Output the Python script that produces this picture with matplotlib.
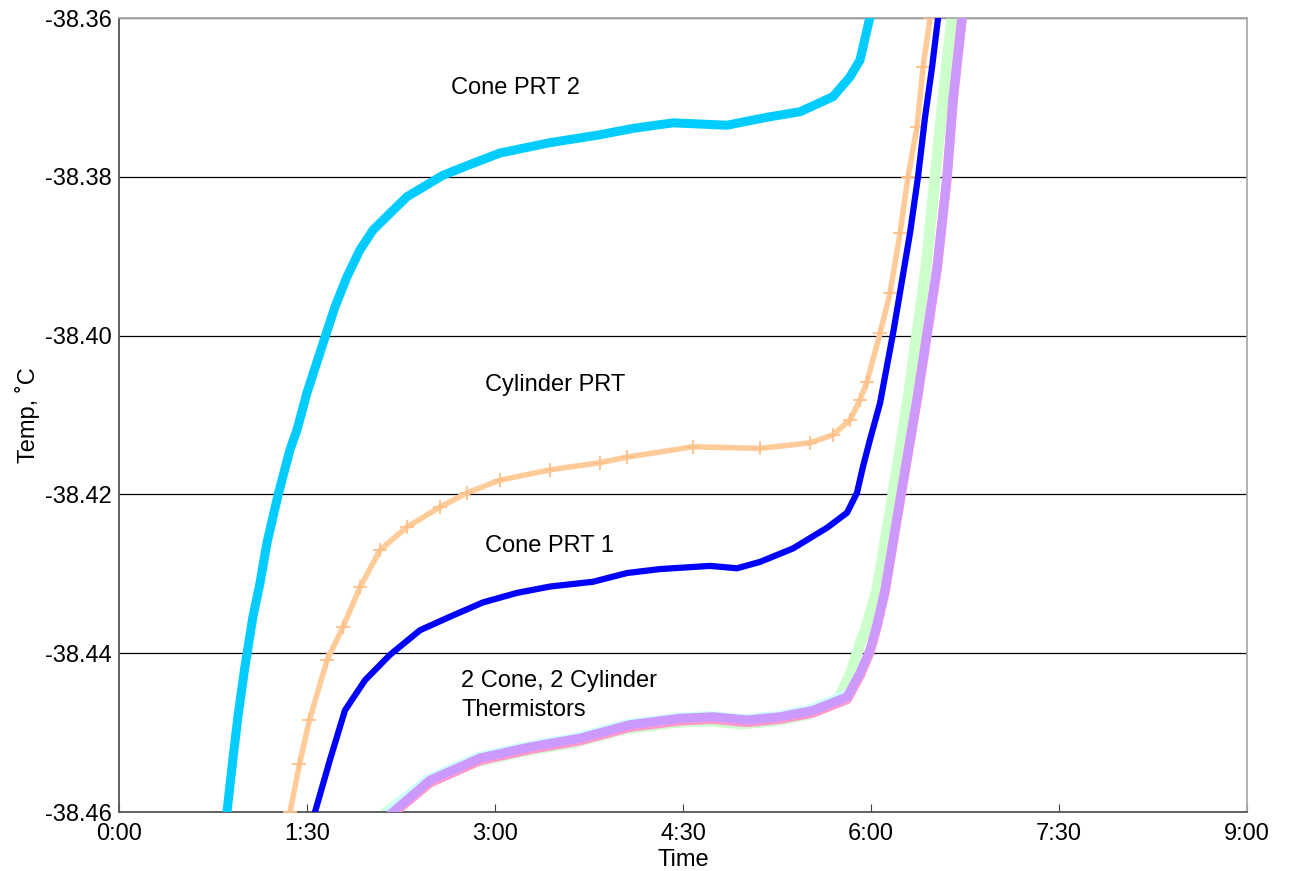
import matplotlib
matplotlib.use("Agg")
import matplotlib.pyplot as plt
from matplotlib.ticker import FuncFormatter, MultipleLocator

plt.rcParams["font.family"] = ["Liberation Sans", "DejaVu Sans"]

# time in minutes, temperature in deg C
cone2_t = [0.862, 0.902, 0.949, 1.005, 1.069, 1.125, 1.181, 1.269, 1.364, 1.420, 1.500,
           1.644, 1.723, 1.819, 1.923, 2.027, 2.162, 2.298, 2.458, 2.585, 2.825, 3.040,
           3.439, 3.838, 4.101, 4.420, 4.851, 5.170, 5.434, 5.697, 5.833, 5.912, 5.99]
cone2_y = [-38.4600, -38.4543, -38.4480, -38.4417, -38.4354, -38.4312, -38.4261, -38.4201,
           -38.4144, -38.4119, -38.4072, -38.4002, -38.3964, -38.3926, -38.3892, -38.3867,
           -38.3846, -38.3825, -38.3810, -38.3798, -38.3783, -38.3770, -38.3757, -38.3747,
           -38.3739, -38.3732, -38.3735, -38.3725, -38.3718, -38.3699, -38.3674, -38.3653,
           -38.3600]

cyl_t = [1.365, 1.44, 1.52, 1.66, 1.787, 1.923, 2.083, 2.298, 2.561, 2.777, 3.040, 3.439,
         3.838, 4.053, 4.580, 5.114, 5.513, 5.697, 5.833, 5.912, 5.968, 6.072, 6.152,
         6.231, 6.295, 6.367, 6.415, 6.471]
cyl_y = [-38.4600, -38.4540, -38.4484, -38.4409, -38.4367, -38.4317, -38.4270, -38.4241,
         -38.4216, -38.4198, -38.4182, -38.4169, -38.4160, -38.4153, -38.4140, -38.4142,
         -38.4135, -38.4125, -38.4106, -38.4081, -38.4058, -38.3997, -38.3946, -38.3871,
         -38.3800, -38.3737, -38.3662, -38.3600]

cone1_t = [1.564, 1.684, 1.803, 1.963, 2.162, 2.402, 2.641, 2.904, 3.176, 3.439, 3.782,
           4.053, 4.317, 4.716, 4.931, 5.114, 5.378, 5.649, 5.809, 5.888, 5.936, 5.992,
           6.072, 6.176, 6.231, 6.311, 6.375, 6.431, 6.487, 6.535]
cone1_y = [-38.4600, -38.4534, -38.4472, -38.4434, -38.4402, -38.4371, -38.4354, -38.4336,
           -38.4324, -38.4316, -38.4310, -38.4299, -38.4294, -38.4290, -38.4293, -38.4285,
           -38.4268, -38.4242, -38.4223, -38.4198, -38.4165, -38.4131, -38.4085, -38.3997,
           -38.3946, -38.3871, -38.3800, -38.3725, -38.3662, -38.3600]

therm_purple_t = [2.186, 2.481, 2.880, 3.279, 3.678, 4.077, 4.476, 4.739, 5.011, 5.274,
                  5.537, 5.809, 5.912, 5.992, 6.048, 6.112, 6.231, 6.375, 6.447, 6.527,
                  6.606, 6.654, 6.726]
therm_purple_y = [-38.4600, -38.4560, -38.4532, -38.4518, -38.4507, -38.4490, -38.4482,
                  -38.4480, -38.4484, -38.4480, -38.4472, -38.4455, -38.4425, -38.4396,
                  -38.4364, -38.4320, -38.4207, -38.4072, -38.3997, -38.3914, -38.3800,
                  -38.3703, -38.3600]

therm_pink_t = [2.186, 2.481, 2.880, 3.279, 3.678, 4.077, 4.476, 4.739, 5.011, 5.274,
                5.537, 5.809, 5.912, 5.992, 6.048, 6.112, 6.231, 6.375, 6.447, 6.527,
                6.606, 6.654, 6.726]
therm_pink_y = [-38.4602, -38.4563, -38.4535, -38.4521, -38.4510, -38.4493, -38.4485,
                -38.4483, -38.4487, -38.4483, -38.4475, -38.4458, -38.4428, -38.4398,
                -38.4366, -38.4322, -38.4209, -38.4074, -38.3999, -38.3916, -38.3802,
                -38.3705, -38.3600]

therm_green_t = [2.138, 2.440, 2.840, 3.240, 3.640, 4.040, 4.440, 4.700, 4.970, 5.230,
                 5.490, 5.740, 5.840, 5.896, 5.968, 6.048, 6.168, 6.303, 6.367, 6.439,
                 6.511, 6.574, 6.646]
therm_green_y = [-38.4600, -38.4564, -38.4537, -38.4523, -38.4512, -38.4495, -38.4487,
                 -38.4485, -38.4489, -38.4485, -38.4477, -38.4458, -38.4425, -38.4396,
                 -38.4364, -38.4320, -38.4207, -38.4072, -38.3997, -38.3914, -38.3800,
                 -38.3703, -38.3600]

therm_cyan_t = [2.16, 2.46, 2.86, 3.26, 3.66, 4.06, 4.46, 4.72, 4.99, 5.25, 5.51, 5.77]
therm_cyan_y = [-38.4598, -38.4559, -38.4531, -38.4517, -38.4506, -38.4489, -38.4481,
                -38.4479, -38.4483, -38.4479, -38.4471, -38.4454]

labels = ["Cone PRT 2", "Cylinder PRT", "Cone PRT 1", "2 Cone, 2 Cylinder\nThermistors"]
label_pos = [(2.65, -38.3688), (2.92, -38.4062), (2.92, -38.4265), (2.73, -38.4453)]


def fmt_time(v, pos):
    m = int(round(v * 60))
    return f"{m // 60}:{m % 60:02d}"


fig = plt.figure(figsize=(12.9, 8.71), dpi=100)
ax = fig.add_axes([0.0922, 0.0677, 0.8745, 0.9116])

ax.plot(therm_green_t, therm_green_y, "-", color="#CCFFCC", lw=8, zorder=2)
ax.plot(therm_cyan_t, therm_cyan_y, "-", color="#CCFFFF", lw=7, zorder=2)
ax.plot(therm_pink_t, therm_pink_y, "-", color="#FF99CC", lw=7, zorder=3)
ax.plot(therm_purple_t, therm_purple_y, "-", color="#CC99FF", lw=6.5, zorder=4)

ax.plot(cone2_t, cone2_y, "-", color="#00CCFF", lw=6.5, zorder=3)
ax.plot(cyl_t, cyl_y, "-", color="#FFCC99", lw=4, zorder=3)
ax.plot(cyl_t, cyl_y, "+", color="#FFC08A", ms=10, mew=1.3, zorder=3)
ax.plot(cone1_t, cone1_y, "-", color="#0000FF", lw=4.5, zorder=3)

for txt, (x, y) in zip(labels, label_pos):
    ax.text(x, y, txt, fontsize=17, ha="left", va="center", linespacing=1.4, zorder=5)

ax.set_xlim(0, 9)
ax.set_ylim(-38.46, -38.36)
ax.xaxis.set_major_locator(MultipleLocator(1.5))
ax.xaxis.set_major_formatter(FuncFormatter(fmt_time))
ax.yaxis.set_major_locator(MultipleLocator(0.02))
ax.yaxis.set_major_formatter(FuncFormatter(lambda v, p: f"{v:.2f}"))
ax.grid(axis="y", color="black", lw=0.9)
ax.set_axisbelow(True)
ax.tick_params(axis="x", direction="in", length=6, color="#444444", labelsize=17, pad=8)
ax.tick_params(axis="y", length=0, labelsize=17, pad=5)

for s in ["top", "right"]:
    ax.spines[s].set_color("#AAAAAA")
    ax.spines[s].set_linewidth(1.3)
for s in ["left", "bottom"]:
    ax.spines[s].set_color("#555555")
    ax.spines[s].set_linewidth(1.3)

ax.set_xlabel("Time", fontsize=17, labelpad=3)
ax.set_ylabel("Temp, \u02daC", fontsize=17, labelpad=4)

fig.savefig("out.png", dpi=100)
